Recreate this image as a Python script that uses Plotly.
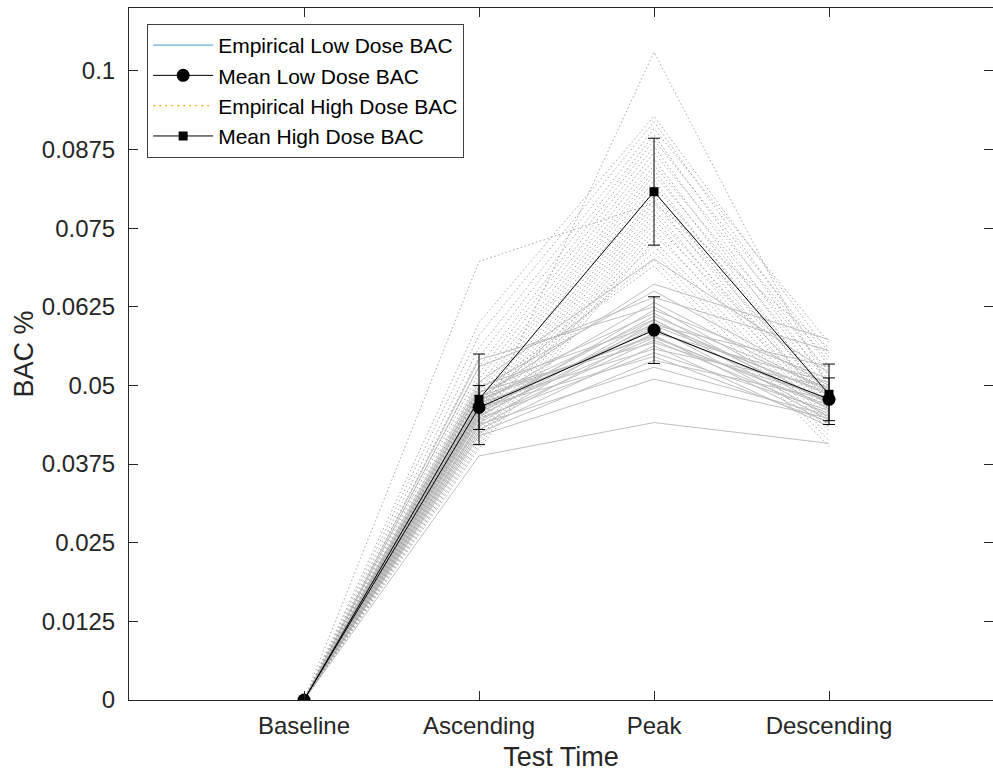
import plotly.graph_objects as go

categories = ["Baseline", "Ascending", "Peak", "Descending"]
ytick_vals = [0, 0.0125, 0.025, 0.0375, 0.05, 0.0625, 0.075, 0.0875, 0.1]
ytick_text = ["0", "0.0125", "0.025", "0.0375", "0.05", "0.0625", "0.075", "0.0875", "0.1"]

# Empirical low dose BAC per subject (baseline is 0 for all)
low_asc = [0.0505, 0.0480, 0.0495, 0.0530, 0.0470, 0.0541, 0.0455, 0.0488, 0.0462, 0.0475,
           0.0440, 0.0498, 0.0452, 0.0468, 0.0435, 0.0478, 0.0458, 0.0445, 0.0490, 0.0430,
           0.0472, 0.0448, 0.0465, 0.0425, 0.0438, 0.0420, 0.0388, 0.0460, 0.0482, 0.0450]
low_peak = [0.0701, 0.0661, 0.0650, 0.0640, 0.0632, 0.0625, 0.0620, 0.0615, 0.0610, 0.0605,
            0.0600, 0.0596, 0.0592, 0.0588, 0.0584, 0.0580, 0.0576, 0.0572, 0.0568, 0.0563,
            0.0558, 0.0552, 0.0546, 0.0540, 0.0529, 0.0510, 0.0441, 0.0595, 0.0578, 0.0604]
low_desc = [0.0520, 0.0573, 0.0500, 0.0555, 0.0490, 0.0470, 0.0510, 0.0462, 0.0495, 0.0450,
            0.0485, 0.0530, 0.0445, 0.0475, 0.0505, 0.0440, 0.0468, 0.0455, 0.0480, 0.0435,
            0.0498, 0.0460, 0.0442, 0.0478, 0.0452, 0.0448, 0.0408, 0.0488, 0.0465, 0.0472]

# Empirical high dose BAC per subject
high_asc = [0.0430, 0.0697, 0.0600, 0.0580, 0.0560, 0.0545, 0.0530, 0.0520, 0.0510, 0.0500,
            0.0492, 0.0485, 0.0478, 0.0470, 0.0464, 0.0458, 0.0452, 0.0446, 0.0440, 0.0435,
            0.0425, 0.0420, 0.0415, 0.0410, 0.0405, 0.0400, 0.0468, 0.0455, 0.0475, 0.0488]
high_peak = [0.1030, 0.0790, 0.0928, 0.0919, 0.0908, 0.0898, 0.0890, 0.0880, 0.0870, 0.0860,
             0.0850, 0.0842, 0.0835, 0.0826, 0.0818, 0.0810, 0.0802, 0.0795, 0.0788, 0.0780,
             0.0772, 0.0765, 0.0757, 0.0748, 0.0740, 0.0731, 0.0722, 0.0712, 0.0700, 0.0690]
high_desc = [0.0495, 0.0560, 0.0552, 0.0530, 0.0568, 0.0515, 0.0545, 0.0500, 0.0538, 0.0490,
             0.0522, 0.0480, 0.0508, 0.0470, 0.0488, 0.0460, 0.0478, 0.0455, 0.0485, 0.0450,
             0.0468, 0.0445, 0.0475, 0.0440, 0.0465, 0.0435, 0.0428, 0.0420, 0.0412, 0.0403]

# Group means and error bars
low_mean = [0.0, 0.0465, 0.0588, 0.0478]
low_err = [0.0, 0.0035, 0.0053, 0.0034]
high_mean = [0.0, 0.0478, 0.0808, 0.0486]
high_err = [0.0, 0.0072, 0.0085, 0.0048]

xpos = list(range(1, len(categories) + 1))

def build(asc, peak, desc):
    xs, ys = [], []
    for a, p, d in zip(asc, peak, desc):
        xs += xpos + [None]
        ys += [0.0, a, p, d, None]
    return xs, ys

fig = go.Figure()
FONT = "Helvetica, Liberation Sans, Arial, sans-serif"

lx, ly = build(low_asc, low_peak, low_desc)
fig.add_trace(go.Scatter(x=lx, y=ly, mode="lines", line=dict(color="#BFBFBF", width=1),
                         showlegend=False, hoverinfo="skip", connectgaps=False))
hx, hy = build(high_asc, high_peak, high_desc)
fig.add_trace(go.Scatter(x=hx, y=hy, mode="lines",
                         line=dict(color="#A6A6A6", width=1, dash="1.5px,2.5px"),
                         showlegend=False, hoverinfo="skip", connectgaps=False))

# legend-only entries
fig.add_trace(go.Scatter(x=[None], y=[None], mode="lines", name="Empirical Low Dose BAC",
                         line=dict(color="#6AAEDD", width=1.2), legendrank=1))
fig.add_trace(go.Scatter(x=[None], y=[None], mode="lines", name="Empirical High Dose BAC",
                         line=dict(color="#EDB120", width=1.2, dash="2px,4px"), legendrank=3))

fig.add_trace(go.Scatter(x=xpos, y=high_mean, mode="lines+markers", name="Mean High Dose BAC",
                         line=dict(color="black", width=1),
                         marker=dict(symbol="square", size=9, color="black"),
                         error_y=dict(type="data", array=high_err, visible=True, color="black",
                                      thickness=1, width=6),
                         legendrank=4))
fig.add_trace(go.Scatter(x=xpos, y=low_mean, mode="lines+markers", name="Mean Low Dose BAC",
                         line=dict(color="black", width=1),
                         marker=dict(symbol="circle", size=13, color="black"),
                         error_y=dict(type="data", array=low_err, visible=True, color="black",
                                      thickness=1, width=6),
                         legendrank=2))

axis_common = dict(showline=True, linecolor="#262626", linewidth=1, mirror="ticks",
                   ticks="inside", ticklen=9, tickcolor="#262626", tickwidth=1,
                   showgrid=False, zeroline=False,
                   tickfont=dict(family=FONT, size=24, color="#262626"))

fig.update_layout(
    width=993, height=774,
    margin=dict(l=129, r=0, t=8, b=74),
    paper_bgcolor="white", plot_bgcolor="white",
    xaxis=dict(range=[0, 4.937], tickvals=xpos, ticktext=categories,
               title=dict(text="Test Time", font=dict(family=FONT, size=27, color="#262626"),
                          standoff=9),
               ticklabelstandoff=4, **axis_common),
    yaxis=dict(range=[0, 0.11], tickvals=ytick_vals, ticktext=ytick_text,
               title=dict(text="BAC %", font=dict(family=FONT, size=27, color="#262626"),
                          standoff=0),
               ticklabelstandoff=8, **axis_common),
    legend=dict(x=0.021, y=0.977, xanchor="left", yanchor="top",
                bgcolor="white", bordercolor="#404040", borderwidth=1,
                font=dict(family=FONT, size=21, color="black"),
                itemwidth=60, tracegroupgap=0, traceorder="normal"),
    showlegend=True,
)

fig.write_html("out.html")
